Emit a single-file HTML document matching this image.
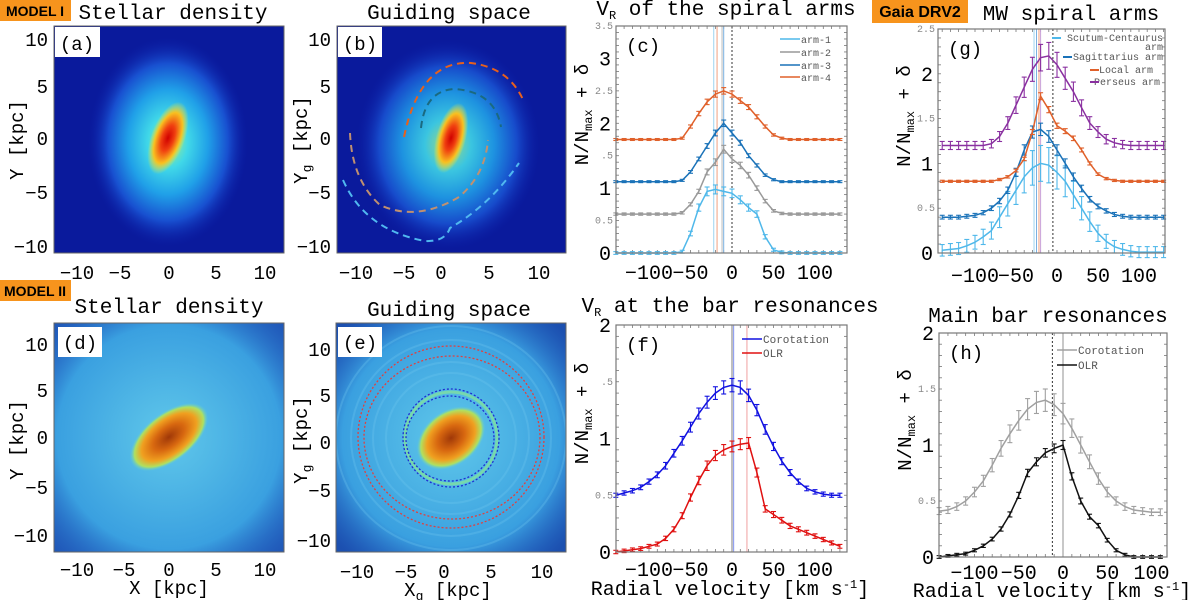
<!DOCTYPE html>
<html><head><meta charset="utf-8">
<style>
body{margin:0;background:#fff;}
svg{display:block;font-family:"Liberation Mono",monospace;}
.sans{font-family:"Liberation Sans",sans-serif;}
</style></head>
<body>
<svg id="fig" width="1200" height="600" viewBox="0 0 1200 600" xmlns="http://www.w3.org/2000/svg">
<defs>
 <radialGradient id="gA" cx="50%" cy="50%" r="50%">
  <stop offset="0" stop-color="#b8f070"/><stop offset="0.25" stop-color="#40d8e8"/><stop offset="0.5" stop-color="#20a0e8"/><stop offset="0.75" stop-color="#1850d0"/><stop offset="1" stop-color="#0c1ea8" stop-opacity="0"/>
 </radialGradient>
 <radialGradient id="gCore" cx="50%" cy="50%" r="50%">
  <stop offset="0" stop-color="#d00000"/><stop offset="0.35" stop-color="#f04010"/><stop offset="0.7" stop-color="#f8c020"/><stop offset="1" stop-color="#e8f040" stop-opacity="0"/>
 </radialGradient>
 <radialGradient id="gD" cx="50%" cy="50%" r="50%">
  <stop offset="0" stop-color="#60c8ea"/><stop offset="0.7" stop-color="#3aa0e0"/><stop offset="1" stop-color="#2a78d0" stop-opacity="0"/>
 </radialGradient>
 <radialGradient id="gBar" cx="50%" cy="50%" r="50%">
  <stop offset="0" stop-color="#a03808"/><stop offset="0.4" stop-color="#d86810"/><stop offset="0.7" stop-color="#f0a020"/><stop offset="0.88" stop-color="#b0e060"/><stop offset="1" stop-color="#60d0d0" stop-opacity="0"/>
 </radialGradient>
 <clipPath id="cA"><rect x="54" y="26" width="230" height="227"/></clipPath>
 <clipPath id="cB"><rect x="337" y="26" width="229" height="227"/></clipPath>
 <clipPath id="cD"><rect x="54" y="323" width="230" height="229"/></clipPath>
 <clipPath id="cE"><rect x="336" y="323" width="230" height="229"/></clipPath>
</defs>

<rect x="0" y="0" width="71" height="21" fill="#f7941d"/>
<text x="35" y="16" class="sans" font-size="14" font-weight="bold" text-anchor="middle">MODEL I</text>
<rect x="0" y="280" width="71" height="21" fill="#f7941d"/>
<text x="35" y="296" class="sans" font-size="14" font-weight="bold" text-anchor="middle">MODEL II</text>
<rect x="872" y="0" width="96" height="23" fill="#f7941d"/>
<text x="920" y="17" class="sans" font-size="16" font-weight="bold" text-anchor="middle">Gaia DRV2</text>

<text x="173" y="19" font-size="21" text-anchor="middle">Stellar density</text>
<text x="449" y="19" font-size="21" text-anchor="middle">Guiding space</text>
<text x="726" y="15" font-size="21" text-anchor="middle">V<tspan font-size="12" dy="4">R</tspan><tspan dy="-4"> of the spiral arms</tspan></text>
<text x="1071" y="20" font-size="21" text-anchor="middle">MW spiral arms</text>
<text x="169" y="313" font-size="21" text-anchor="middle">Stellar density</text>
<text x="449" y="316" font-size="21" text-anchor="middle">Guiding space</text>
<text x="730" y="312" font-size="21" text-anchor="middle">V<tspan font-size="12" dy="4">R</tspan><tspan dy="-4"> at the bar resonances</tspan></text>
<text x="1048" y="322" font-size="21" text-anchor="middle">Main bar resonances</text>

<!-- (a) -->
<g clip-path="url(#cA)">
 <rect x="54" y="26" width="230" height="227" fill="#0a1a9c"/>
 <ellipse cx="168" cy="142" rx="80" ry="105" fill="url(#gA)"/>
 <ellipse cx="168" cy="138" rx="17" ry="38" transform="rotate(20 168 138)" fill="url(#gCore)"/>
</g>
<rect x="54" y="26" width="230" height="227" fill="none" stroke="#666"/>
<rect x="55" y="27" width="45" height="30" fill="#fff"/>
<text x="77" y="50" font-size="19" text-anchor="middle">(a)</text>

<!-- (b) -->
<g clip-path="url(#cB)">
 <rect x="337" y="26" width="229" height="227" fill="#0a1a9c"/>
 <ellipse cx="448" cy="145" rx="92" ry="105" fill="url(#gA)" opacity="0.9"/>
 <ellipse cx="451" cy="138" rx="15" ry="36" transform="rotate(15 451 138)" fill="url(#gCore)"/>
 <path d="M404,137 Q420,60 471,63 Q510,68 524,102" fill="none" stroke="#e8601c" stroke-width="2" stroke-dasharray="7,5"/>
 <path d="M421,128 Q425,90 455,89 Q495,92 501,127" fill="none" stroke="#1a6a80" stroke-width="2" stroke-dasharray="7,5"/>
 <path d="M350,133 Q352,180 380,205 Q417,222 459,197 Q485,175 488,140" fill="none" stroke="#c09070" stroke-width="2" stroke-dasharray="7,5"/>
 <path d="M343,180 Q365,230 425,241 Q445,242 450,228 Q490,205 519,163" fill="none" stroke="#50b8f0" stroke-width="2" stroke-dasharray="7,5"/>
</g>
<rect x="337" y="26" width="229" height="227" fill="none" stroke="#666"/>
<rect x="338" y="27" width="44" height="30" fill="#fff"/>
<text x="360" y="50" font-size="19" text-anchor="middle">(b)</text>

<!-- (d) -->
<g clip-path="url(#cD)">
 <rect x="54" y="323" width="230" height="229" fill="#2058b8"/>
 <ellipse cx="169" cy="437" rx="160" ry="160" fill="url(#gD)"/>
 <ellipse cx="169" cy="437" rx="46" ry="24" transform="rotate(-38 169 437)" fill="url(#gBar)"/>
</g>
<rect x="54" y="323" width="230" height="229" fill="none" stroke="#666"/>
<rect x="58" y="327" width="44" height="30" fill="#fff"/>
<text x="80" y="349" font-size="19" text-anchor="middle">(d)</text>

<!-- (e) -->
<g clip-path="url(#cE)">
 <rect x="336" y="323" width="230" height="229" fill="#1c50b0"/>
 <ellipse cx="451" cy="438" rx="155" ry="155" fill="url(#gD)"/>
 <g fill="none" stroke="#70c8f0" stroke-width="2" opacity="0.3">
  <ellipse cx="451" cy="438" rx="65" ry="65"/><ellipse cx="451" cy="438" rx="78" ry="76"/><ellipse cx="451" cy="438" rx="100" ry="98"/><ellipse cx="451" cy="438" rx="115" ry="112"/>
 </g>
 <ellipse cx="451" cy="438" rx="46" ry="46" fill="none" stroke="#80e0a0" stroke-width="3" opacity="0.8"/>
 <ellipse cx="451" cy="438" rx="38" ry="27" transform="rotate(-38 451 438)" fill="url(#gBar)"/>
 <g fill="none" stroke-width="1.3" stroke-dasharray="2,2">
  <ellipse cx="451" cy="437" rx="93" ry="91" stroke="#e04040"/>
  <ellipse cx="452" cy="437.5" rx="88" ry="81.5" stroke="#e04040"/>
  <ellipse cx="451" cy="438" rx="48" ry="49" stroke="#2030d0"/>
  <ellipse cx="450" cy="438.5" rx="44" ry="42.5" stroke="#2030d0"/>
 </g>
</g>
<rect x="336" y="323" width="230" height="229" fill="none" stroke="#666"/>
<rect x="338" y="327" width="44" height="30" fill="#fff"/>
<text x="360" y="349" font-size="19" text-anchor="middle">(e)</text>

<g font-size="19">
 <g text-anchor="end">
  <text x="48" y="46">10</text><text x="48" y="93">5</text><text x="48" y="145">0</text><text x="48" y="199">−5</text><text x="48" y="253">−10</text>
  <text x="331" y="46">10</text><text x="331" y="93">5</text><text x="331" y="145">0</text><text x="331" y="199">−5</text><text x="331" y="253">−10</text>
  <text x="48" y="351">10</text><text x="48" y="397">5</text><text x="48" y="444">0</text><text x="48" y="494">−5</text><text x="48" y="542">−10</text>
  <text x="331" y="356">10</text><text x="331" y="402">5</text><text x="331" y="449">0</text><text x="331" y="497">−5</text><text x="331" y="547">−10</text>
 </g>
 <g text-anchor="middle">
  <text x="77" y="279">−10</text><text x="120" y="279">−5</text><text x="169" y="279">0</text><text x="216" y="279">5</text><text x="265" y="279">10</text>
  <text x="356" y="279">−10</text><text x="404" y="279">−5</text><text x="441" y="279">0</text><text x="489" y="279">5</text><text x="539" y="279">10</text>
  <text x="77" y="576">−10</text><text x="124" y="576">−5</text><text x="169" y="576">0</text><text x="216" y="576">5</text><text x="265" y="576">10</text>
  <text x="357" y="578">−10</text><text x="406" y="578">−5</text><text x="444" y="578">0</text><text x="491" y="578">5</text><text x="542" y="578">10</text>
 </g>
</g>
<text transform="translate(23 140) rotate(-90)" font-size="19" text-anchor="middle">Y [kpc]</text>
<text transform="translate(307 140) rotate(-90)" font-size="19" text-anchor="middle">Y<tspan font-size="13" dy="4">g</tspan><tspan dy="-4"> [kpc]</tspan></text>
<text transform="translate(23 440) rotate(-90)" font-size="19" text-anchor="middle">Y [kpc]</text>
<text transform="translate(307 440) rotate(-90)" font-size="19" text-anchor="middle">Y<tspan font-size="13" dy="4">g</tspan><tspan dy="-4"> [kpc]</tspan></text>
<text x="169" y="594" font-size="19" text-anchor="middle">X [kpc]</text>
<text x="448" y="596" font-size="19" text-anchor="middle">X<tspan font-size="13" dy="4">g</tspan><tspan dy="-4"> [kpc]</tspan></text>

<text x="730" y="595" font-size="20" text-anchor="middle">Radial velocity [km s<tspan font-size="12" dy="-7">-1</tspan><tspan dy="7">]</tspan></text>
<text x="1052" y="597" font-size="20" text-anchor="middle">Radial velocity [km s<tspan font-size="12" dy="-7">-1</tspan><tspan dy="7">]</tspan></text>

<g id="charts"></g>
</svg>
<script>
const velC = [-140,-130,-120,-110,-100,-90,-80,-70,-60,-50,-40,-30,-20,-10,0,10,20,30,40,50,60,70,80,90,100,110,120,130,140];
const arm1 = [0,0,0,0,0,0,0,0,0.02,0.3,0.7,0.95,0.98,0.95,0.92,0.82,0.7,0.6,0.25,0.05,0.01,0,0,0,0,0,0,0,0];
const arm2 = [0.6,0.6,0.6,0.6,0.6,0.6,0.6,0.6,0.62,0.75,0.95,1.25,1.4,1.6,1.45,1.35,1.2,1.0,0.8,0.65,0.61,0.6,0.6,0.6,0.6,0.6,0.6,0.6,0.6];
const arm3 = [1.1,1.1,1.1,1.1,1.1,1.1,1.1,1.1,1.12,1.25,1.45,1.65,1.85,2.0,1.85,1.7,1.5,1.35,1.2,1.13,1.1,1.1,1.1,1.1,1.1,1.1,1.1,1.1,1.1];
const arm4 = [1.75,1.75,1.75,1.75,1.75,1.75,1.75,1.75,1.77,1.95,2.15,2.33,2.45,2.5,2.45,2.35,2.25,2.1,1.95,1.82,1.77,1.75,1.75,1.75,1.75,1.75,1.75,1.75,1.75];
const ticksC = [0,0.5,1,1.5,2,2.5,3,3.5];

const velG = [-140,-130,-120,-110,-100,-90,-80,-70,-60,-50,-40,-30,-20,-10,0,10,20,30,40,50,60,70,80,90,100,110,120,130];
const scutum = [0.03,0.04,0.05,0.08,0.12,0.18,0.25,0.4,0.55,0.7,0.85,0.95,1.0,0.98,0.9,0.8,0.65,0.5,0.35,0.22,0.13,0.07,0.04,0.02,0.01,0.01,0.01,0.01];
const sagittarius = [0.4,0.4,0.4,0.41,0.42,0.45,0.5,0.58,0.7,0.9,1.15,1.35,1.38,1.3,1.15,1.0,0.85,0.72,0.6,0.52,0.47,0.43,0.41,0.4,0.4,0.4,0.4,0.4];
const local = [0.8,0.8,0.8,0.8,0.8,0.8,0.8,0.82,0.85,0.92,1.05,1.35,1.75,1.6,1.42,1.36,1.28,1.15,1.0,0.88,0.83,0.81,0.8,0.8,0.8,0.8,0.8,0.8];
const perseus = [1.2,1.2,1.2,1.2,1.2,1.2,1.22,1.3,1.45,1.65,1.85,2.05,2.18,2.2,2.1,1.95,1.8,1.62,1.45,1.35,1.27,1.23,1.21,1.2,1.2,1.2,1.2,1.2];
const ticksG = [0,0.5,1,1.5,2,2.5];

const velF = [-140,-130,-120,-110,-100,-90,-80,-70,-60,-50,-40,-30,-20,-10,0,10,20,30,40,50,60,70,80,90,100,110,120,130,140];
const corotF = [0.5,0.52,0.54,0.57,0.62,0.68,0.76,0.87,0.98,1.1,1.22,1.32,1.4,1.45,1.47,1.45,1.38,1.25,1.08,0.93,0.8,0.7,0.62,0.56,0.53,0.51,0.5,0.5,0.5];
const olrF = [0,0.01,0.02,0.03,0.05,0.07,0.12,0.2,0.32,0.48,0.63,0.76,0.85,0.9,0.93,0.95,0.96,0.7,0.38,0.33,0.28,0.23,0.2,0.17,0.14,0.11,0.08,0.05,0.03];
const ticksF = [0,0.5,1,1.5,2];

const velH = [-140,-130,-120,-110,-100,-90,-80,-70,-60,-50,-40,-30,-20,-10,0,10,20,30,40,50,60,70,80,90,100,110];
const corotH = [0.41,0.42,0.45,0.5,0.58,0.68,0.82,0.97,1.1,1.22,1.32,1.38,1.4,1.36,1.28,1.15,1.0,0.85,0.7,0.58,0.5,0.45,0.42,0.41,0.4,0.4];
const olrH = [0,0.01,0.02,0.03,0.06,0.1,0.16,0.25,0.38,0.55,0.75,0.85,0.93,0.97,1.0,0.72,0.5,0.36,0.28,0.15,0.06,0.02,0,0,0,0];
const ticksH = [0,0.5,1,1.5,2];
const xTicks = [-100,-50,0,50,100];

const NS = "http://www.w3.org/2000/svg";
const root = document.getElementById('charts');
function mk(tag, attrs, parent){
  const e = document.createElementNS(NS, tag);
  for (const k in attrs) e.setAttribute(k, attrs[k]);
  (parent||root).appendChild(e);
  return e;
}
function panel(p){
  const g = mk('g', {});
  
  
  const X = v => p.x0v + v * p.kx;
  const Y = v => p.y1 - (v - p.ymin) / (p.ymax - p.ymin) * (p.y1 - p.y0);
  for (let v = -150; v <= 150; v += 10) {
    const x = X(v); if (x < p.x0 || x > p.x1) continue;
    mk('line', {x1:x, x2:x, y1:p.y1, y2:p.y1-3, stroke:'#777', 'stroke-width':0.8}, g);
    mk('line', {x1:x, x2:x, y1:p.y0, y2:p.y0+3, stroke:'#777', 'stroke-width':0.8}, g);
  }
  for (let v = p.ymin; v <= p.ymax + 1e-9; v += 0.1) {
    const y = Y(v);
    mk('line', {x1:p.x0, x2:p.x0+3, y1:y, y2:y, stroke:'#777', 'stroke-width':0.8}, g);
    mk('line', {x1:p.x1, x2:p.x1-3, y1:y, y2:y, stroke:'#777', 'stroke-width':0.8}, g);
  }
  p.vlines.forEach(l => {
    const vl = mk('line', {x1:X(l.v), x2:X(l.v), y1:p.y0, y2:p.y1, stroke:l.c, 'stroke-width':l.w||1, 'stroke-dasharray':l.d||'none', opacity:l.o||1}, g);
    
    
  });
  p.series.forEach(s => {
    const sg = mk('g', {}, g);
    
    
    const pts = [];
    s.v.forEach((val, i) => {
      const x = X(s.x[i]); if (x < p.x0 - 0.5 || x > p.x1 + 0.5) return;
      pts.push(x.toFixed(1) + ',' + Y(val).toFixed(1));
      const e = s.err * (0.3 + 0.7 * Math.min(1, Math.max(0, (val - s.base) / s.amp)));
      const yt = Y(val + e), yb = Y(val - e);
      mk('line', {x1:x, x2:x, y1:yt, y2:yb, stroke:s.c, 'stroke-width':1.1}, sg);
      mk('line', {x1:x-2.5, x2:x+2.5, y1:yt, y2:yt, stroke:s.c, 'stroke-width':1.1}, sg);
      mk('line', {x1:x-2.5, x2:x+2.5, y1:yb, y2:yb, stroke:s.c, 'stroke-width':1.1}, sg);
    });
    mk('polyline', {points:pts.join(' '), fill:'none', stroke:s.c, 'stroke-width':1.5}, sg);
  });
  const fr = mk('rect', {x:p.x0, y:p.y0, width:p.x1-p.x0, height:p.y1-p.y0, fill:'none', stroke:'#777', 'stroke-width':1.2}, g);
  
  
  p.yt.forEach(v => {
    const whole = Math.abs(v - Math.round(v)) < 1e-9;
    const t = mk('text', {x: whole ? p.x0-5 : p.x0-3, y: Y(v) + (whole ? 7 : 3), 'text-anchor':'end', 'font-size': whole ? 20 : 10, fill: whole ? '#000' : '#888'}, g);
    t.textContent = whole ? String(v) : (p.x0 < 700 && v > 1 && v !== 2.5 && v !== 3.5 ? '.5' : String(v));
    
    
  });
  xTicks.forEach(v => {
    const t = mk('text', {x:X(v), y:p.xly, 'text-anchor':'middle', 'font-size':20}, g);
    t.textContent = v < 0 ? '−' + Math.abs(v) : String(v);
    
    
  });
  const pl = mk('text', {x:p.x0+10, y:p.y0+26, 'font-size':19}, g);
  pl.textContent = p.letter;
  
  
  const yt = mk('text', {transform:`translate(${p.x0-28} ${(p.y0+p.y1)/2-25}) rotate(-90)`, 'font-size':19, 'text-anchor':'middle'}, g);
  yt.innerHTML = 'N/N<tspan font-size="12" dy="4">max</tspan><tspan dy="-4"> + δ</tspan>';
  
  
  p.legend.forEach((l, i) => {
    const lg = mk('g', {}, g);
    
    
    if (l.right) {
      const t = mk('text', {x:l.x, y:l.y, 'text-anchor':'end', 'font-size':10, fill:'#555'}, lg);
      t.textContent = l.t;
      if (l.c) mk('line', {x1:l.lx, x2:l.lx+9, y1:l.y-3, y2:l.y-3, stroke:l.c, 'stroke-width':2}, lg);
    } else {
      mk('line', {x1:l.x, x2:l.x+20, y1:l.y-4, y2:l.y-4, stroke:l.c, 'stroke-width':1.6}, lg);
      const t = mk('text', {x:l.x+21, y:l.y, 'font-size':l.fs||10, fill:'#555'}, lg);
      t.textContent = l.t;
    }
  });
}

panel({name:'chart-c', letter:'(c)', x0:616, x1:847, y0:26, y1:253, x0v:732, kx:0.83, ymin:0, ymax:3.5, yt:ticksC, xly:279,
  vlines:[{v:-22,c:'#9cd4f0'},{v:-18,c:'#f0a080'},{v:-12,c:'#bbb'},{v:-10,c:'#7ab0e0'},{v:0,c:'#333',d:'2,2'}],
  series:[
    {name:'series-arm-1', x:velC, v:arm1, c:'#4fb8ea', base:0, amp:1, err:0.07},
    {name:'series-arm-2', x:velC, v:arm2, c:'#999', base:0.6, amp:1, err:0.06},
    {name:'series-arm-3', x:velC, v:arm3, c:'#1a72b8', base:1.1, amp:0.9, err:0.05},
    {name:'series-arm-4', x:velC, v:arm4, c:'#e0602a', base:1.75, amp:0.75, err:0.05}],
  legend:[{x:780,y:43,t:'arm-1',c:'#4fb8ea'},{x:780,y:56,t:'arm-2',c:'#999'},{x:780,y:69,t:'arm-3',c:'#1a72b8'},{x:780,y:81,t:'arm-4',c:'#e0602a'}]});

panel({name:'chart-g', letter:'(g)', x0:938, x1:1165, y0:29, y1:253, x0v:1057, kx:0.82, ymin:0, ymax:2.5, yt:ticksG, xly:282,
  vlines:[{v:-28,c:'#9cd4f0'},{v:-25,c:'#7ab0e0'},{v:-22,c:'#f0a080'},{v:-20,c:'#c8a0d8'},{v:-5,c:'#333',d:'2,2'}],
  series:[
    {name:'series-scutum-centaurus', x:velG, v:scutum, c:'#4fb8ea', base:0, amp:1, err:0.2},
    {name:'series-sagittarius', x:velG, v:sagittarius, c:'#1a72b8', base:0.4, amp:1, err:0.07},
    {name:'series-local', x:velG, v:local, c:'#e0602a', base:0.8, amp:1, err:0.04},
    {name:'series-perseus', x:velG, v:perseus, c:'#8a30a0', base:1.2, amp:1, err:0.15}],
  legend:[{right:true,x:1163,y:41,t:'Scutum-Centaurus',c:'#4fb8ea',lx:1052},{right:true,x:1163,y:50,t:'arm'},
    {right:true,x:1163,y:60,t:'Sagittarius arm',c:'#1a72b8',lx:1063},{right:true,x:1153,y:73,t:'Local arm',c:'#e0602a',lx:1090},{right:true,x:1160,y:85,t:'Perseus arm',c:'#8a30a0',lx:1090}]});

panel({name:'chart-f', letter:'(f)', x0:616, x1:847, y0:325, y1:552, x0v:732, kx:0.83, ymin:0, ymax:2, yt:ticksF, xly:576,
  vlines:[{v:0,c:'#aaa',w:1.5},{v:2,c:'#8090f0'},{v:18,c:'#f0a0a0'}],
  series:[
    {name:'series-corotation', x:velF, v:corotF, c:'#1010e0', base:0.5, amp:1, err:0.06},
    {name:'series-olr', x:velF, v:olrF, c:'#e01010', base:0, amp:1, err:0.05}],
  legend:[{x:742,y:343,t:'Corotation',c:'#1010e0',fs:11},{x:742,y:357,t:'OLR',c:'#e01010',fs:11}]});

panel({name:'chart-h', letter:'(h)', x0:939, x1:1167, y0:333, y1:557, x0v:1063, kx:0.885, ymin:0, ymax:2, yt:ticksH, xly:579,
  vlines:[{v:-12,c:'#333',d:'2,2'},{v:0,c:'#aaa',w:1.3}],
  series:[
    {name:'series-corotation', x:velH, v:corotH, c:'#a0a0a0', base:0.4, amp:1, err:0.1},
    {name:'series-olr', x:velH, v:olrH, c:'#111', base:0, amp:1, err:0.04}],
  legend:[{x:1057,y:354,t:'Corotation',c:'#a0a0a0',fs:11},{x:1057,y:369,t:'OLR',c:'#111',fs:11}]});
</script>
</body></html>
